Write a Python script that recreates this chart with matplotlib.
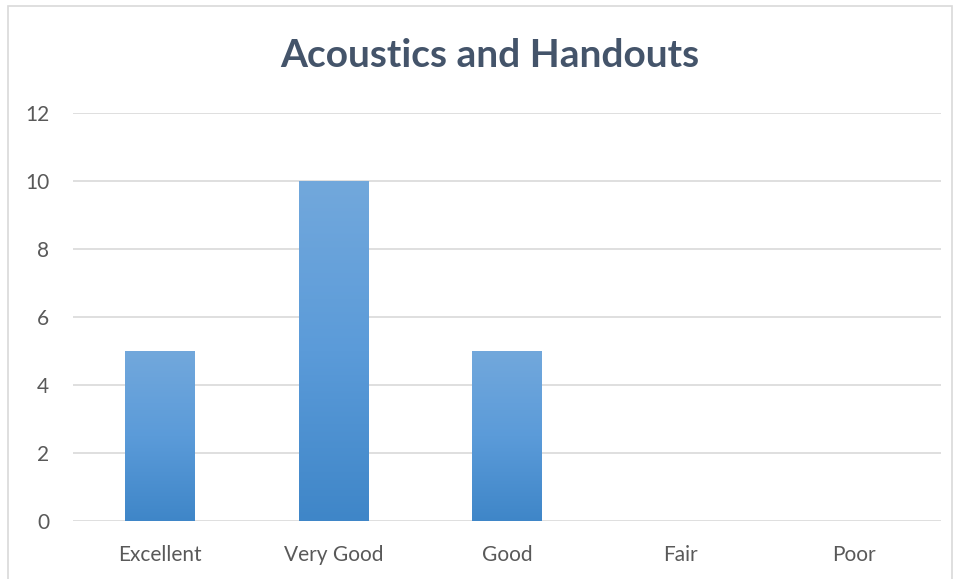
import numpy as np
import matplotlib
matplotlib.use('Agg')
import matplotlib.pyplot as plt
from matplotlib.colors import LinearSegmentedColormap
from matplotlib.patches import Rectangle

categories = ['Excellent', 'Very Good', 'Good', 'Fair', 'Poor']
counts = [5, 10, 5, 0, 0]
y_ticks = [0, 2, 4, 6, 8, 10, 12]

plt.rcParams['font.family'] = ['Lato', 'DejaVu Sans']

fig = plt.figure(figsize=(9.56, 5.79), dpi=100)
ax = fig.add_axes([73 / 956, 58 / 579, 868 / 956, 408 / 579])

# Excel-style vertical gradient fill
cmap = LinearSegmentedColormap.from_list('bar', ['#3F86C8', '#5B9BD9', '#72A8DC'])
grad = np.linspace(0, 1, 256).reshape(-1, 1)

x = np.arange(len(categories))
width = 0.4
bars = ax.bar(x, counts, width=width, color='none', edgecolor='none', zorder=3)
for b, v in zip(bars, counts):
    if v <= 0:
        continue
    x0 = b.get_x()
    im = ax.imshow(grad, cmap=cmap, aspect='auto', origin='lower',
                   extent=[x0, x0 + width, 0, v], zorder=3)
    im.set_clip_path(b)

ax.set_xlim(-0.5, len(categories) - 0.5)
ax.set_ylim(0, 12)
ax.set_yticks(y_ticks)
ax.set_xticks(x)
ax.set_xticklabels(categories)
ax.tick_params(axis='both', length=0, labelsize=15, colors='#595959')
ax.tick_params(axis='y', pad=17)
ax.tick_params(axis='x', pad=17)
ax.grid(axis='y', color='#D9D9D9', linewidth=1.2, zorder=0)
ax.set_axisbelow(True)
for s in ax.spines.values():
    s.set_visible(False)

fig.text(0.512, 0.905, 'Acoustics and Handouts', ha='center', va='center',
         fontsize=28, fontweight='bold', color='#44546A')

# chart border
fig.patches.append(Rectangle((8 / 956, -0.01), 944 / 956, 1 - 6 / 579 + 0.01,
                             transform=fig.transFigure, fill=False,
                             edgecolor='#D9D9D9', linewidth=1.2))

fig.savefig('out.png', dpi=100)
